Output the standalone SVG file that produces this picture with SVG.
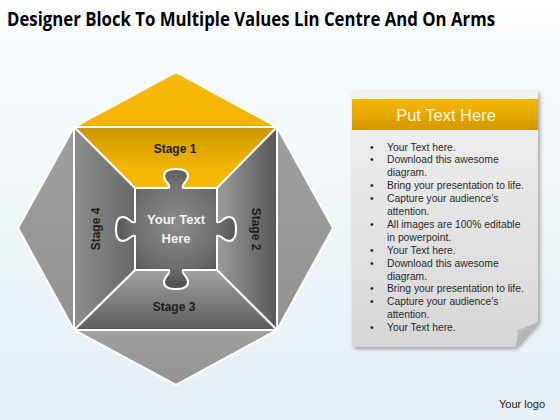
<svg xmlns="http://www.w3.org/2000/svg" width="560" height="420" viewBox="0 0 560 420">
<defs>
<linearGradient id="bg" x1="0" y1="0" x2="0" y2="1">
<stop offset="0" stop-color="#ffffff"/><stop offset="0.12" stop-color="#f7fbfd"/><stop offset="1" stop-color="#e5eff5"/>
</linearGradient>
<linearGradient id="yTop" x1="0" y1="0" x2="0" y2="1">
<stop offset="0" stop-color="#f7bb08"/><stop offset="1" stop-color="#f3b200"/>
</linearGradient>
<linearGradient id="yStage" x1="0" y1="0" x2="0" y2="1">
<stop offset="0" stop-color="#cc9600"/><stop offset="0.6" stop-color="#efb200"/><stop offset="1" stop-color="#f8bc00"/>
</linearGradient>
<linearGradient id="gOut" x1="0" y1="0" x2="0" y2="1">
<stop offset="0" stop-color="#a0a0a0"/><stop offset="1" stop-color="#929292"/>
</linearGradient>
<linearGradient id="gS2" x1="0" y1="0" x2="1" y2="0">
<stop offset="0" stop-color="#9c9c9c"/><stop offset="1" stop-color="#575757"/>
</linearGradient>
<linearGradient id="gS4" x1="0" y1="0" x2="1" y2="0">
<stop offset="0" stop-color="#8e8e8e"/><stop offset="1" stop-color="#686868"/>
</linearGradient>
<linearGradient id="gS3" x1="0" y1="0" x2="0" y2="1">
<stop offset="0" stop-color="#a2a2a2"/><stop offset="1" stop-color="#5c5c5c"/>
</linearGradient>
<radialGradient id="gC" cx="0.5" cy="0.45" r="0.6">
<stop offset="0" stop-color="#8c8c8c"/><stop offset="0.6" stop-color="#6e6e6e"/><stop offset="1" stop-color="#464646"/>
</radialGradient>
<linearGradient id="pan" x1="0" y1="0" x2="0" y2="1">
<stop offset="0" stop-color="#f1f1f1"/><stop offset="1" stop-color="#d6d6d6"/>
</linearGradient>
<linearGradient id="hdr" x1="0" y1="0" x2="0" y2="1">
<stop offset="0" stop-color="#f6b800"/><stop offset="1" stop-color="#d39800"/>
</linearGradient>
<linearGradient id="fold" x1="0" y1="0" x2="1" y2="1">
<stop offset="0" stop-color="#d0d0d0"/><stop offset="1" stop-color="#8e8e8e"/>
</linearGradient>
<filter id="sh" x="-10%" y="-10%" width="130%" height="130%">
<feGaussianBlur in="SourceAlpha" stdDeviation="2"/><feOffset dx="2" dy="2"/>
<feComponentTransfer><feFuncA type="linear" slope="0.35"/></feComponentTransfer>
<feMerge><feMergeNode/><feMergeNode in="SourceGraphic"/></feMerge>
</filter>
</defs>
<style>
.pc{stroke:#ffffff;stroke-width:2;stroke-linejoin:round}
.st{font-family:"Liberation Sans",Arial,sans-serif;font-weight:bold;font-size:12px;fill:#1e1e1e;text-anchor:middle}
.bt{font-family:"Liberation Sans",Arial,sans-serif;font-size:10.3px;fill:#2a2a2a}
</style>
<rect width="560" height="420" fill="url(#bg)"/>
<text x="7" y="26" font-family="'Open Sans','Liberation Sans',sans-serif" font-weight="bold" font-size="19" fill="#000" textLength="488" lengthAdjust="spacingAndGlyphs">Designer Block To Multiple Values Lin Centre And On Arms</text>

<g id="outer-top"><polygon class="pc" points="74,127 176,72 277,127" fill="url(#yTop)"/></g>
<g id="outer-left"><polygon class="pc" points="74,127 18,228 74,330" fill="url(#gOut)"/></g>
<g id="outer-right"><polygon class="pc" points="277,127 333,228 277,330" fill="url(#gOut)"/></g>
<g id="outer-bottom"><polygon class="pc" points="74,330 176,385 277,330" fill="url(#gOut)"/></g>

<g id="stage1"><polygon class="pc" points="74,127 277,127 217,188 135,188" fill="url(#yStage)"/><text class="st" x="175" y="153">Stage 1</text></g>
<g id="stage2"><polygon class="pc" points="277,127 277,330 217,270 217,188" fill="url(#gS2)"/><text class="st" transform="translate(252,229) rotate(90)">Stage 2</text></g>
<g id="stage3"><polygon class="pc" points="74,330 277,330 217,270 135,270" fill="url(#gS3)"/><text class="st" x="174" y="311">Stage 3</text></g>
<g id="stage4"><polygon class="pc" points="74,127 135,188 135,270 74,330" fill="url(#gS4)"/><text class="st" transform="translate(100,229) rotate(-90)">Stage 4</text></g>

<g id="center">
<path class="pc" fill="url(#gC)" d="M135,188 L169,188 C171,184 164,182 164,176 C164,170 170,169 176,169 C182,169 188,170 188,176 C188,182 181,184 183,188 L217,188 L217,222 C221,224 223,217 229,217 C235,217 236,223 236,229 C236,235 235,241 229,241 C223,241 221,234 217,236 L217,270 L183,270 C181,274 188,276 188,282 C188,288 182,289 176,289 C170,289 164,288 164,282 C164,276 171,274 169,270 L135,270 L135,236 C131,234 129,241 123,241 C117,241 116,235 116,229 C116,223 117,217 123,217 C129,217 131,224 135,222 Z"/>
<text x="176" y="224" font-family="'Liberation Sans',Arial,sans-serif" font-weight="bold" font-size="13" fill="#f2f2f2" text-anchor="middle">Your Text</text>
<text x="176" y="243" font-family="'Liberation Sans',Arial,sans-serif" font-weight="bold" font-size="13" fill="#f2f2f2" text-anchor="middle">Here</text>
</g>

<g id="panel">
<path d="M352,91 L538,91 L538,322 L515,347 L352,347 Z" fill="url(#pan)" filter="url(#sh)"/>
<path d="M538,322 C530,326 522,328 517,330 C518,336 517,342 515,347 Z" fill="url(#fold)"/>
<rect x="352" y="99" width="186" height="31" fill="url(#hdr)"/>
<text x="446" y="121" font-family="'Liberation Sans',Arial,sans-serif" font-size="16.5" fill="#fff6dc" text-anchor="middle">Put Text Here</text>
<g class="bt">
<text x="370" y="150.5">•</text><text x="387" y="150.5">Your Text here.</text>
<text x="370" y="163.4">•</text><text x="387" y="163.4">Download this awesome</text>
<text x="387" y="176.3">diagram.</text>
<text x="370" y="189.2">•</text><text x="387" y="189.2">Bring your presentation to life.</text>
<text x="370" y="202.1">•</text><text x="387" y="202.1">Capture your audience’s</text>
<text x="387" y="215">attention.</text>
<text x="370" y="227.9">•</text><text x="387" y="227.9">All images are 100% editable</text>
<text x="387" y="240.8">in powerpoint.</text>
<text x="370" y="253.7">•</text><text x="387" y="253.7">Your Text here.</text>
<text x="370" y="266.6">•</text><text x="387" y="266.6">Download this awesome</text>
<text x="387" y="279.5">diagram.</text>
<text x="370" y="292.4">•</text><text x="387" y="292.4">Bring your presentation to life.</text>
<text x="370" y="305.3">•</text><text x="387" y="305.3">Capture your audience’s</text>
<text x="387" y="318.2">attention.</text>
<text x="370" y="331.1">•</text><text x="387" y="331.1">Your Text here.</text>
</g>
</g>
<text x="499" y="408" font-family="'Liberation Sans',Arial,sans-serif" font-size="11" fill="#222">Your logo</text>
</svg>
